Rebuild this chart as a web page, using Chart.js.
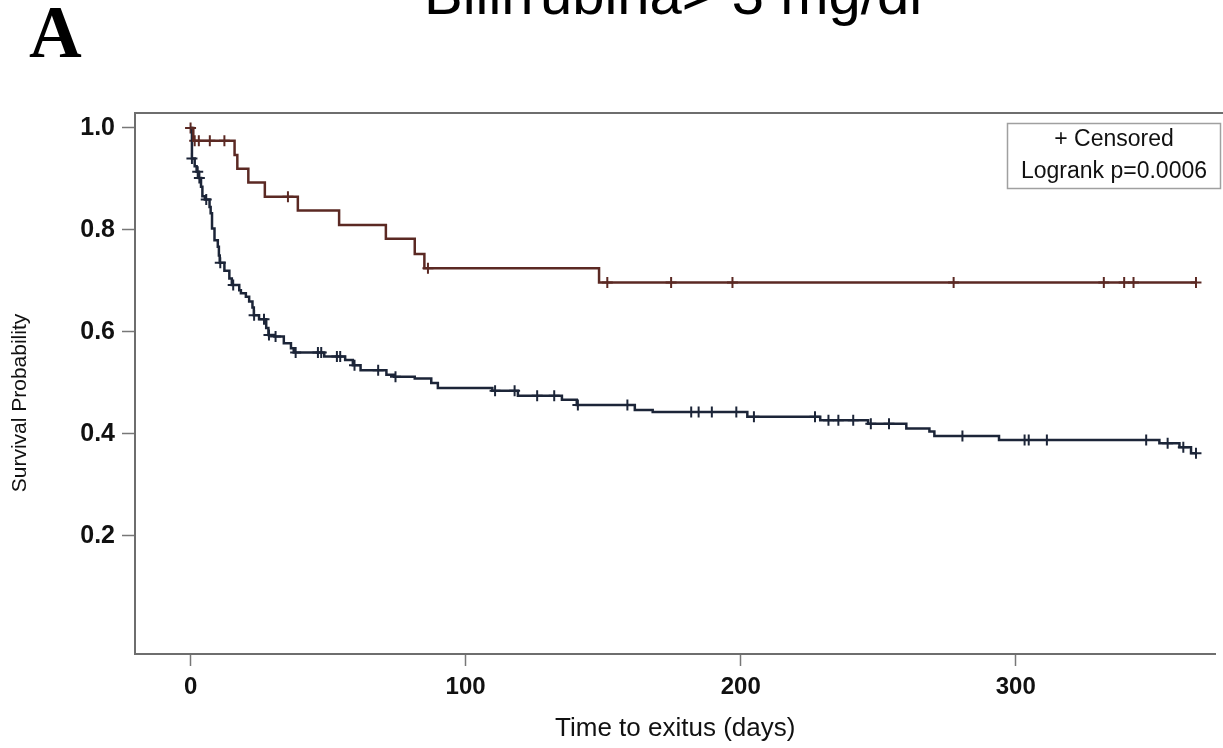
<!DOCTYPE html>
<html>
<head>
<meta charset="utf-8">
<script src="https://cdn.jsdelivr.net/npm/chart.js@4.4.1/dist/chart.umd.min.js"></script>
<style>
  html, body { margin: 0; padding: 0; background: #ffffff; }
  #wrap { width: 1223px; height: 748px; position: relative; }
</style>
</head>
<body>
<div id="wrap"><canvas id="km" width="1223" height="748"></canvas></div>
<script>
// Kaplan-Meier estimates: step times (days) and survival after each step
const groupATimes = [0, 1, 16, 17, 21, 27, 39, 54, 71, 81.5, 85, 148.5];
const groupASurv  = [1.0, 0.975, 0.947, 0.920, 0.893, 0.865, 0.838, 0.810, 0.783, 0.753, 0.725, 0.697];
const groupACensored = [0, 1.5, 3, 7, 12.3, 35.4, 86.3, 151.5, 174.7, 197, 277.4, 332, 339.4, 342.8, 365.5];

const groupBTimes = [0, 0.5, 1.5, 2.2, 3.0, 3.8, 4.3, 5.2, 6.9, 7.3, 7.8, 8.7, 9.9, 10.3, 10.6,
  12.3, 14.1, 15.0, 17.7, 18.3, 20.1, 21.3, 22.5, 23.0, 24.9, 27.5, 28.3, 30.5, 33.9, 36.5, 37.5,
  48.6, 56.2, 59.0, 61.8, 71.2, 74.0, 81.5, 87.5, 89.9, 109.7, 119, 135, 140.4, 161.5, 168,
  202.4, 228.9, 246.3, 260.2, 268.6, 270.4, 293.9, 352.2, 359.5, 363.7];
const groupBSurv = [1.0, 0.940, 0.925, 0.914, 0.902, 0.885, 0.866, 0.860, 0.845, 0.833, 0.803, 0.780, 0.767, 0.750, 0.736,
  0.720, 0.705, 0.692, 0.682, 0.676, 0.669, 0.660, 0.648, 0.633, 0.625, 0.608, 0.594, 0.591, 0.578, 0.568, 0.560,
  0.552, 0.545, 0.535, 0.525, 0.516, 0.512, 0.509, 0.500, 0.490, 0.485, 0.475, 0.467, 0.457, 0.447, 0.443,
  0.434, 0.427, 0.420, 0.411, 0.405, 0.396, 0.388, 0.382, 0.374, 0.362];
const groupBCensored = [0.5, 2.6, 3.2, 5.7, 10.8, 15.5, 23.1, 26.7, 28.5, 30.9, 38.2, 46.3, 47.5, 53.2, 54.4,
  59.6, 68.2, 74.5, 110.7, 117.8, 126, 132.2, 140.8, 158.8, 182, 184.7, 189.5, 198.4, 204.8, 227,
  231.9, 235.5, 240.9, 247.3, 253.9, 280.6, 303.2, 304.7, 311.3, 347.4, 355.2, 360.9, 365.5];

const xTickValues = [0, 100, 200, 300];
const yTickValues = [0.2, 0.4, 0.6, 0.8, 1.0];

const titleText = 'Bilirrubina> 3 mg/dl';
const panelLetter = 'A';
const yAxisTitle = 'Survival Probability';
const xAxisTitle = 'Time to exitus (days)';
const insetLines = ['+ Censored', 'Logrank p=0.0006'];

const colorA = '#5b2923';
const colorB = '#1c2538';
const sansFamily = "'Liberation Sans', Arial, Helvetica, sans-serif";

// survival value in effect at time t (right-continuous step function)
function survivalAt(times, surv, t) {
  let s = surv[0];
  for (let i = 0; i < times.length; i++) {
    if (times[i] <= t) s = surv[i];
  }
  return s;
}

function stepPoints(times, surv, censored) {
  const pts = times.map((t, i) => ({ x: t, y: surv[i] }));
  const last = Math.max(...censored);
  if (last > times[times.length - 1]) pts.push({ x: last, y: surv[surv.length - 1] });
  return pts;
}

function censorPoints(times, surv, censored) {
  return censored.map(t => ({ x: t, y: survivalAt(times, surv, t) }));
}

// plot frame, heading, panel letter, vertical axis title and inset box
const decorations = {
  id: 'decorations',
  afterDatasetsDraw(chart) {
    const { ctx, chartArea } = chart;
    ctx.save();
    ctx.strokeStyle = '#6e6e6e';
    ctx.lineWidth = 2;
    ctx.beginPath();
    ctx.moveTo(chartArea.left, chartArea.top);
    ctx.lineTo(chart.width, chartArea.top);
    ctx.stroke();

    // inset box
    ctx.strokeStyle = '#a0a0a0';
    ctx.lineWidth = 1.5;
    ctx.strokeRect(1007.5, 123.5, 213, 65);
    ctx.fillStyle = '#111111';
    ctx.font = '23px ' + sansFamily;
    ctx.textAlign = 'center';
    ctx.textBaseline = 'middle';
    ctx.fillText(insetLines[0], 1114, 140);
    ctx.fillText(insetLines[1], 1114, 172);

    // vertical axis title
    ctx.save();
    ctx.translate(20, 403);
    ctx.rotate(-Math.PI / 2);
    ctx.font = '21px ' + sansFamily;
    ctx.fillText(yAxisTitle, 0, 0);
    ctx.restore();

    // heading, partly above the page edge
    ctx.font = '58px ' + sansFamily;
    ctx.textBaseline = 'alphabetic';
    ctx.fillStyle = '#000000';
    ctx.fillText(titleText, 673, 14);

    // panel letter
    ctx.font = "bold 73px 'Liberation Serif', 'Times New Roman', serif";
    ctx.textAlign = 'left';
    ctx.fillText(panelLetter, 29, 57);
    ctx.restore();
  }
};

new Chart(document.getElementById('km'), {
  type: 'scatter',
  data: {
    datasets: [
      {
        data: stepPoints(groupATimes, groupASurv, groupACensored),
        showLine: true, stepped: 'before',
        borderColor: colorA, borderWidth: 2.5, pointRadius: 0
      },
      {
        data: stepPoints(groupBTimes, groupBSurv, groupBCensored),
        showLine: true, stepped: 'before',
        borderColor: colorB, borderWidth: 2.5, pointRadius: 0
      },
      {
        data: censorPoints(groupATimes, groupASurv, groupACensored),
        showLine: false, pointStyle: 'cross', pointRadius: 5.5,
        borderColor: colorA, borderWidth: 2, backgroundColor: colorA
      },
      {
        data: censorPoints(groupBTimes, groupBSurv, groupBCensored),
        showLine: false, pointStyle: 'cross', pointRadius: 5.5,
        borderColor: colorB, borderWidth: 2, backgroundColor: colorB
      }
    ]
  },
  options: {
    responsive: false,
    animation: false,
    events: [],
    devicePixelRatio: 1,
    layout: { padding: { top: 113, right: 0, left: 0, bottom: 0 } },
    plugins: { legend: { display: false }, tooltip: { enabled: false }, title: { display: false } },
    scales: {
      x: {
        type: 'linear',
        min: -20.2,
        max: 372.6,
        afterBuildTicks(axis) { axis.ticks = xTickValues.map(v => ({ value: v })); },
        afterFit(axis) { axis.height = 94; },
        grid: { drawOnChartArea: false, drawTicks: true, tickLength: 12, tickWidth: 1.5, tickColor: '#777777' },
        border: { display: true, color: '#6e6e6e', width: 2 },
        ticks: { color: '#111111', padding: 7, maxRotation: 0, font: { family: sansFamily, size: 24, weight: 'bold' } },
        title: {
          display: true, text: xAxisTitle, color: '#111111',
          font: { family: sansFamily, size: 26 }, padding: { top: 0, bottom: 4 }
        }
      },
      y: {
        type: 'linear',
        min: -0.0314,
        max: 1.0294,
        afterBuildTicks(axis) { axis.ticks = yTickValues.map(v => ({ value: v })); },
        afterFit(axis) { axis.width = 135; },
        grid: { drawOnChartArea: false, drawTicks: true, tickLength: 13, tickWidth: 1.5, tickColor: '#777777' },
        border: { display: true, color: '#6e6e6e', width: 2 },
        ticks: {
          color: '#111111', padding: 7,
          font: { family: sansFamily, size: 25, weight: 'bold' },
          callback: v => Number(v).toFixed(1)
        },
        title: { display: false }
      }
    }
  },
  plugins: [decorations]
});
</script>
</body>
</html>
